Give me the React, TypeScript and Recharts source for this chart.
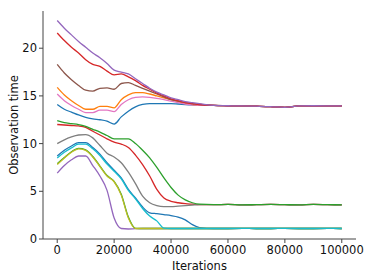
import { LineChart, Line, XAxis, YAxis } from "recharts";

const iterations = [
  0, 2500, 5000, 7500, 10000, 12500, 15000, 17500, 20000, 22500, 25000, 27500, 30000, 32500, 35000,
  37500, 40000, 42500, 45000, 47500, 50000, 55000, 60000, 65000, 70000, 75000, 80000, 85000, 90000,
  95000, 100000,
];

// tails after ~55000, where the runs have settled
const upperTail = [14.0, 13.97, 13.95, 13.92, 13.88, 13.8, 13.95, 13.97, 13.96, 13.95];
const midTail = [3.6, 3.62, 3.58, 3.6, 3.62, 3.6, 3.58, 3.62, 3.6, 3.58];
const lowTail = [1.1, 1.1, 1.11, 1.1, 1.1, 1.11, 1.1, 1.1, 1.11, 1.1];

const purpleUp = [22.9, 22.1, 21.4, 20.7, 20.1, 19.5, 19.0, 18.4, 17.7, 17.5, 17.3, 16.8, 16.3, 15.8, 15.4, 15.1, 14.8, 14.6, 14.4, 14.3, 14.2, ...upperTail];
const redUp = [21.6, 20.8, 20.1, 19.5, 18.8, 18.3, 18.1, 17.6, 17.2, 17.3, 17.0, 16.6, 16.1, 15.7, 15.3, 15.0, 14.7, 14.5, 14.3, 14.2, 14.1, ...upperTail];
const brownUp = [18.3, 17.4, 16.7, 16.1, 15.6, 15.5, 15.8, 15.85, 15.7, 16.3, 16.4, 16.1, 15.8, 15.5, 15.2, 14.9, 14.6, 14.45, 14.3, 14.2, 14.1, ...upperTail];
const orangeUp = [15.9, 15.1, 14.5, 14.0, 13.6, 13.6, 13.9, 13.9, 13.75, 14.6, 15.1, 15.35, 15.35, 15.2, 15.0, 14.8, 14.6, 14.4, 14.2, 14.1, 14.0, ...upperTail];
const pinkUp = [15.2, 14.5, 14.0, 13.6, 13.25, 13.25, 13.5, 13.5, 13.35, 14.1, 14.6, 14.85, 14.9, 14.85, 14.75, 14.6, 14.45, 14.3, 14.15, 14.05, 14.0, ...upperTail];
const blueUp = [14.1, 13.6, 13.3, 13.0, 12.75, 12.6, 12.5, 12.35, 12.05, 12.8, 13.4, 13.85, 14.1, 14.2, 14.2, 14.2, 14.2, 14.15, 14.1, 14.05, 14.0, ...upperTail];

const greenLow = [12.4, 12.2, 12.1, 12.0, 11.8, 11.5, 11.2, 10.85, 10.5, 10.5, 10.5, 10.0, 9.3, 8.5, 7.5, 6.4, 5.4, 4.6, 4.1, 3.8, 3.65, ...midTail];
const redLow = [12.0, 11.95, 11.9, 11.85, 11.7, 11.3, 10.9, 10.5, 10.15, 9.95, 9.6, 8.8, 7.8, 6.6, 5.2, 4.3, 3.95, 3.8, 3.7, 3.65, 3.6, ...midTail];
const grayLow = [10.0, 10.4, 10.7, 10.9, 10.95, 10.6, 9.8, 9.0, 8.6, 8.0, 7.0, 5.8, 4.5, 3.8, 3.5, 3.4, 3.4, 3.45, 3.5, 3.55, 3.6, ...midTail];
const blueLow = [8.7, 9.3, 9.75, 10.1, 10.1, 9.6, 8.9, 8.0, 7.2, 6.4, 5.2, 4.3, 3.35, 2.75, 2.65, 2.55, 2.45, 2.3, 2.0, 1.5, 1.2, ...lowTail];
const cyanLow = [8.5, 9.1, 9.55, 9.95, 9.95, 9.45, 8.75, 7.85, 7.1, 6.3, 5.1, 4.2, 3.2, 2.4, 1.9, 1.15, 1.1, 1.1, 1.1, 1.1, 1.1, ...lowTail];
const greenLow2 = [7.9, 8.55, 9.15, 9.5, 9.35, 8.65, 7.65, 6.65, 6.05, 4.7, 2.3, 1.12, 1.1, 1.1, 1.1, 1.1, 1.1, 1.1, 1.1, 1.1, 1.1, ...lowTail];
const oliveLow = [7.8, 8.5, 9.1, 9.45, 9.3, 8.6, 7.6, 6.6, 6.0, 4.6, 2.2, 1.1, 1.1, 1.1, 1.1, 1.1, 1.1, 1.1, 1.1, 1.1, 1.1, ...lowTail];
const purpleLow = [6.9, 7.7, 8.3, 8.7, 8.7, 7.7, 6.6, 5.1, 2.2, 1.1, 1.05, 1.08, 1.1, 1.1, 1.1, 1.1, 1.1, 1.1, 1.1, 1.1, 1.1, ...lowTail];

const xTicks = [0, 20000, 40000, 60000, 80000, 100000];
const yTicks = [0, 5, 10, 15, 20];

// draw order: later entries sit on top
const series = [
  { key: "blueLow", values: blueLow, color: "#1f77b4" },
  { key: "redLow", values: redLow, color: "#d62728" },
  { key: "grayLow", values: grayLow, color: "#7f7f7f" },
  { key: "purpleLow", values: purpleLow, color: "#9467bd" },
  { key: "greenLow2", values: greenLow2, color: "#2ca02c" },
  { key: "oliveLow", values: oliveLow, color: "#bcbd22" },
  { key: "greenLow", values: greenLow, color: "#2ca02c" },
  { key: "cyanLow", values: cyanLow, color: "#17becf" },
  { key: "blueUp", values: blueUp, color: "#1f77b4" },
  { key: "orangeUp", values: orangeUp, color: "#ff7f0e" },
  { key: "pinkUp", values: pinkUp, color: "#e377c2" },
  { key: "brownUp", values: brownUp, color: "#8c564b" },
  { key: "redUp", values: redUp, color: "#d62728" },
  { key: "purpleUp", values: purpleUp, color: "#9467bd" },
];

const data = iterations.map((it, i) => {
  const row: Record<string, number> = { it };
  for (const s of series) row[s.key] = s.values[i];
  return row;
});

const font = { fontFamily: "DejaVu Sans", fontSize: 11.5, fill: "#111" };
const spine = { stroke: "#444", strokeWidth: 1 };

export default function App() {
  return (
    <div style={{ position: "absolute", left: 0, top: 0, background: "#fff" }}>
      <LineChart width={374} height={280} data={data} margin={{ top: 11, right: 18, left: 0, bottom: 0 }}>
        <XAxis
          dataKey="it"
          type="number"
          domain={[-5000, 105000]}
          ticks={xTicks}
          allowDataOverflow
          height={41}
          tickSize={4}
          tickMargin={3}
          tick={font}
          axisLine={spine}
          tickLine={spine}
          label={{ value: "Iterations", position: "insideBottom", offset: 10, style: { ...font, textAnchor: "middle" } }}
        />
        <XAxis xAxisId="top" dataKey="it" type="number" domain={[-5000, 105000]} orientation="top" height={0} tick={false} tickLine={false} axisLine={spine} />
        <YAxis
          type="number"
          domain={[0, 23.9]}
          ticks={yTicks}
          allowDataOverflow
          width={43}
          tickSize={4}
          tickMargin={2}
          tick={font}
          axisLine={spine}
          tickLine={spine}
          label={{ value: "Observation time", angle: -90, position: "insideLeft", offset: 14, style: { ...font, textAnchor: "middle" } }}
        />
        <YAxis yAxisId="right" orientation="right" width={0} domain={[0, 23.9]} tick={false} tickLine={false} axisLine={spine} />
        {series.map((s) => (
          <Line
            key={s.key}
            dataKey={s.key}
            type="monotone"
            stroke={s.color}
            strokeWidth={1.3}
            dot={false}
            isAnimationActive={false}
          />
        ))}
      </LineChart>
    </div>
  );
}
